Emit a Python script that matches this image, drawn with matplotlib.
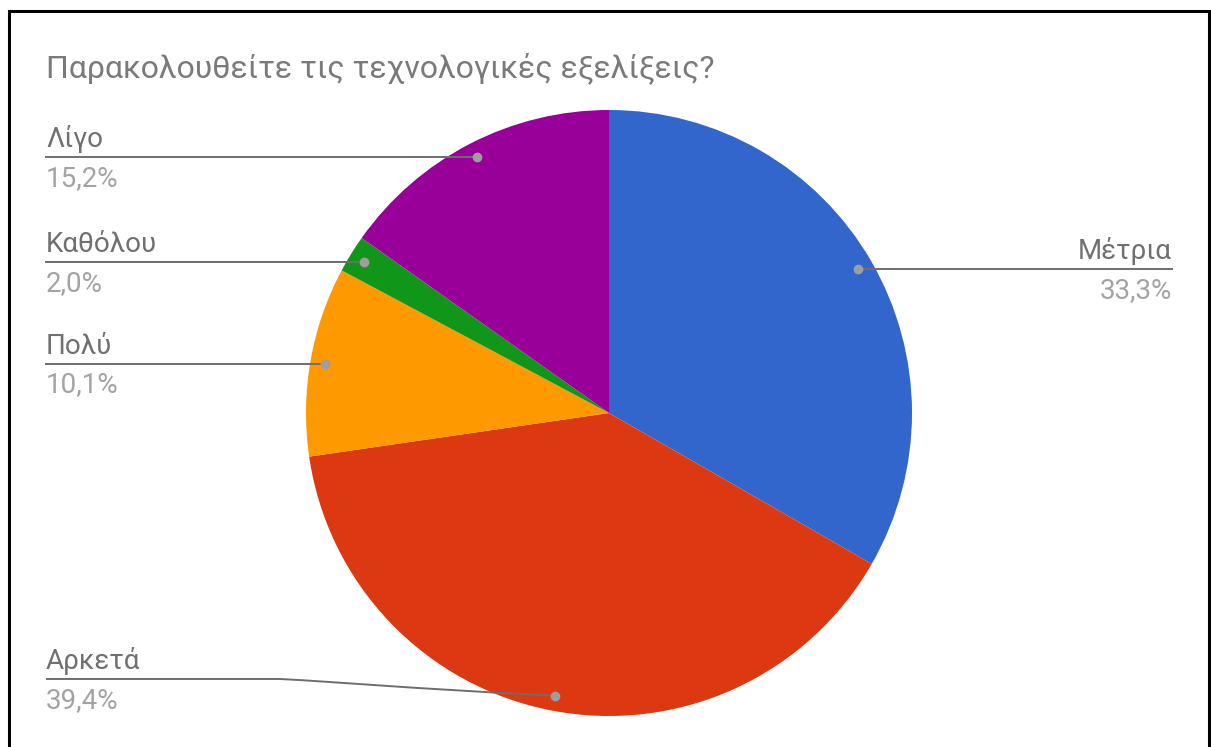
import numpy as np
import matplotlib.pyplot as plt
from matplotlib.patches import Rectangle, PathPatch
from matplotlib.path import Path

plt.rcParams['font.family'] = ['Roboto', 'DejaVu Sans']

title = 'Παρακολουθείτε τις τεχνολογικές εξελίξεις?'
labels = ['Μέτρια', 'Αρκετά', 'Πολύ', 'Καθόλου', 'Λίγο']
shares = [33.3, 39.4, 10.1, 2.0, 15.2]
shares_txt = ['33,3%', '39,4%', '10,1%', '2,0%', '15,2%']
colors = ['#3366cc', '#dc3912', '#ff9900', '#109618', '#990099']

W, H = 1211, 747
cx, cy, R = 609, H - 413, 303

fig = plt.figure(figsize=(W / 100, H / 100), dpi=100)
ax = fig.add_axes([0, 0, 1, 1])

ax.pie(shares, colors=colors, startangle=90, counterclock=False,
       center=(cx, cy), radius=R, wedgeprops=dict(linewidth=0))
ax.set_xlim(0, W)
ax.set_ylim(0, H)
ax.set_aspect('auto')
ax.axis('off')

# frame around the chart
ax.add_patch(Rectangle((9, -20), 1200, H - 11 + 20, fill=False,
                       edgecolor='black', linewidth=2.2, zorder=10))

ax.text(46, H - 77, title, fontsize=23, color='#7a7a7a', va='baseline')

# leader lines and labels
left_x, right_x = 46, 1172
cum = np.cumsum([0] + shares[:-1])
for i, (name, val, pct) in enumerate(zip(labels, shares_txt, shares)):
    ang = np.deg2rad(90 - (cum[i] + pct / 2) * 3.6)
    dx = cx + 0.95 * R * np.cos(ang)
    dy = cy + 0.95 * R * np.sin(ang)
    right = np.cos(ang) > 0
    ly = dy
    if name == 'Αρκετά':
        ly = H - 679
    ax.plot([dx], [dy], 'o', color='#9e9e9e', markersize=6, zorder=5)
    if ly == dy:
        ax.plot([dx, right_x if right else left_x], [dy, dy],
                color='#6e6e6e', linewidth=1.4, zorder=4)
    else:
        bend = 280
        codes = [Path.MOVETO, Path.LINETO, Path.CURVE4, Path.CURVE4, Path.CURVE4]
        verts = [(left_x, ly), (bend, ly), (bend + 60, ly - 3),
                 (bend + 120, ly - 9), (dx, dy)]
        ax.add_patch(PathPatch(Path(verts, codes), fill=False,
                               edgecolor='#6e6e6e', linewidth=1.4, zorder=4))
    tx = right_x if right else left_x
    ha = 'right' if right else 'left'
    ax.text(tx, ly + 10, name, fontsize=20, color='#707070',
            ha=ha, va='baseline')
    ax.text(tx, ly - 29, val, fontsize=20, color='#a3a3a3',
            ha=ha, va='baseline')

fig.savefig('out.png', dpi=100, facecolor='white')
